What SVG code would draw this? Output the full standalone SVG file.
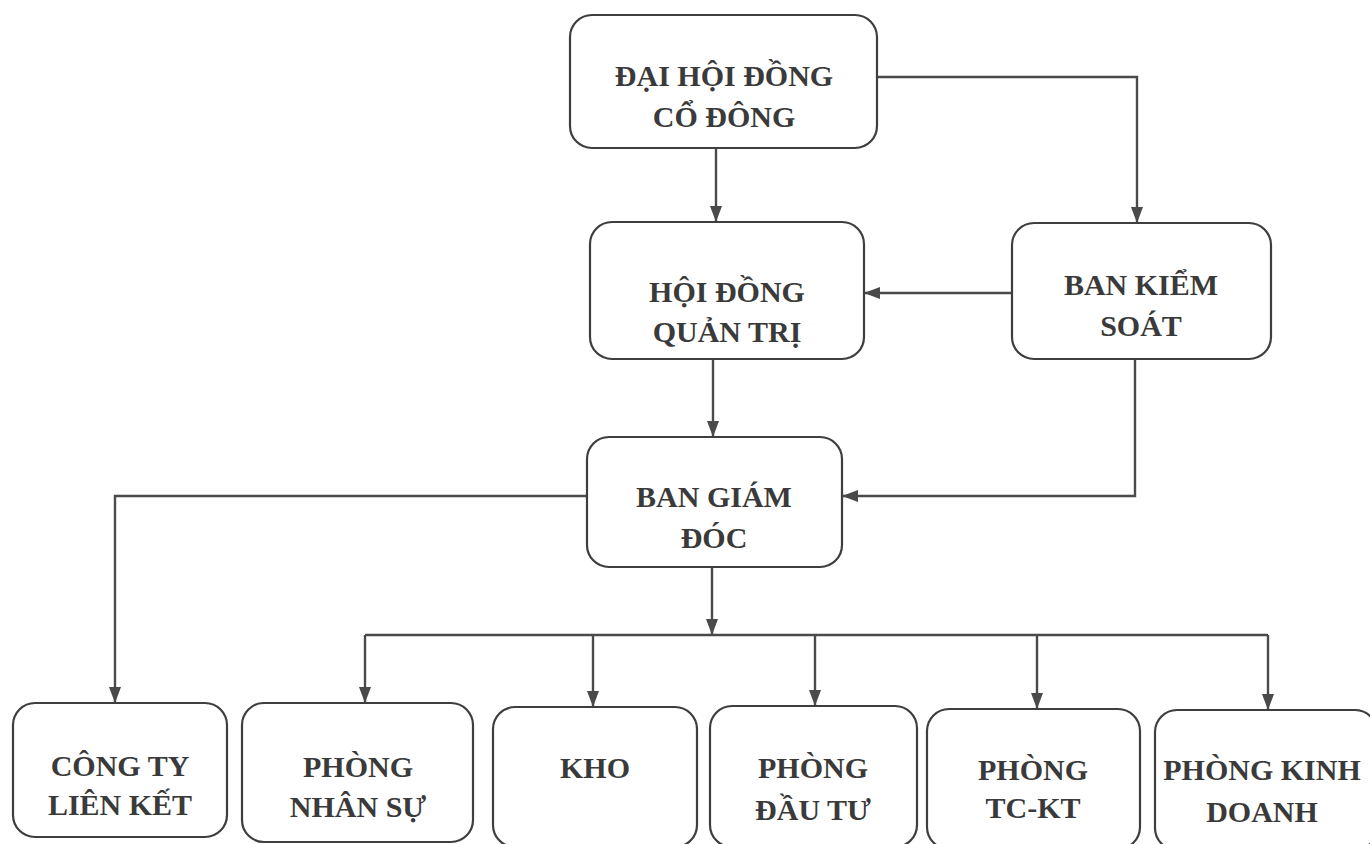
<svg xmlns="http://www.w3.org/2000/svg" width="1370" height="844" viewBox="0 0 1370 844">
<defs>
<style>
.box{fill:#ffffff;stroke:#3e3e3e;stroke-width:2.2}
.lbl{font-family:'Liberation Serif','DejaVu Serif',serif;font-weight:700;font-size:30px;fill:#3a3a3a;text-anchor:middle}
.con{fill:none;stroke:#4a4a4a;stroke-width:2.4}
</style>
<marker id="arr" viewBox="0 0 16 12" refX="15" refY="6" markerWidth="16" markerHeight="12" markerUnits="userSpaceOnUse" orient="auto">
<path d="M0,0 L16,6 L0,12 Z" fill="#4a4a4a"/>
</marker>
</defs>
<rect width="1370" height="844" fill="#ffffff"/>
<g id="connectors">
<path class="con" d="M716,148 L716,221" marker-end="url(#arr)"/>
<path class="con" d="M877,77 L1137,77 L1137,222" marker-end="url(#arr)"/>
<path class="con" d="M1012,293 L865,293" marker-end="url(#arr)"/>
<path class="con" d="M713,359 L713,436" marker-end="url(#arr)"/>
<path class="con" d="M1135,359 L1135,496 L843,496" marker-end="url(#arr)"/>
<path class="con" d="M587,496 L115,496 L115,702" marker-end="url(#arr)"/>
<path class="con" d="M712,567 L712,634" marker-end="url(#arr)"/>
<path class="con" d="M365,635 L1268,635"/>
<path class="con" d="M365,635 L365,702" marker-end="url(#arr)"/>
<path class="con" d="M593,635 L593,706" marker-end="url(#arr)"/>
<path class="con" d="M815,635 L815,705" marker-end="url(#arr)"/>
<path class="con" d="M1037,635 L1037,708" marker-end="url(#arr)"/>
<path class="con" d="M1268,635 L1268,709" marker-end="url(#arr)"/>
</g>
<g id="dhdcd">
<rect class="box" x="570" y="15" width="307" height="133" rx="22"/>
<text class="lbl" x="724" y="86">ĐẠI HỘI ĐỒNG</text>
<text class="lbl" x="724" y="127">CỔ ĐÔNG</text>
</g>
<g id="hdqt">
<rect class="box" x="590" y="222" width="274" height="137" rx="22"/>
<text class="lbl" x="727" y="302">HỘI ĐỒNG</text>
<text class="lbl" x="727" y="342">QUẢN TRỊ</text>
</g>
<g id="bks">
<rect class="box" x="1012" y="223" width="259" height="136" rx="22"/>
<text class="lbl" x="1141" y="295">BAN KIỂM</text>
<text class="lbl" x="1141" y="336">SOÁT</text>
</g>
<g id="bgd">
<rect class="box" x="587" y="437" width="255" height="130" rx="22"/>
<text class="lbl" x="714" y="507">BAN GIÁM</text>
<text class="lbl" x="714" y="548">ĐÓC</text>
</g>
<g id="congty">
<rect class="box" x="13" y="703" width="214" height="134" rx="22"/>
<text class="lbl" x="120" y="776">CÔNG TY</text>
<text class="lbl" x="120" y="815">LIÊN KẾT</text>
</g>
<g id="nhansu">
<rect class="box" x="242" y="703" width="231" height="139" rx="22"/>
<text class="lbl" x="358" y="777">PHÒNG</text>
<text class="lbl" x="358" y="817">NHÂN SỰ</text>
</g>
<g id="kho">
<rect class="box" x="493" y="707" width="204" height="140" rx="22"/>
<text class="lbl" x="595" y="778">KHO</text>
</g>
<g id="dautu">
<rect class="box" x="710" y="706" width="207" height="141" rx="22"/>
<text class="lbl" x="813" y="778">PHÒNG</text>
<text class="lbl" x="813" y="820">ĐẦU TƯ</text>
</g>
<g id="tckt">
<rect class="box" x="927" y="709" width="213" height="140" rx="22"/>
<text class="lbl" x="1033" y="780">PHÒNG</text>
<text class="lbl" x="1033" y="818">TC-KT</text>
</g>
<g id="kinhdoanh">
<rect class="box" x="1155" y="710" width="222" height="140" rx="22"/>
<text class="lbl" x="1262" y="780">PHÒNG KINH</text>
<text class="lbl" x="1262" y="822">DOANH</text>
</g>
</svg>
